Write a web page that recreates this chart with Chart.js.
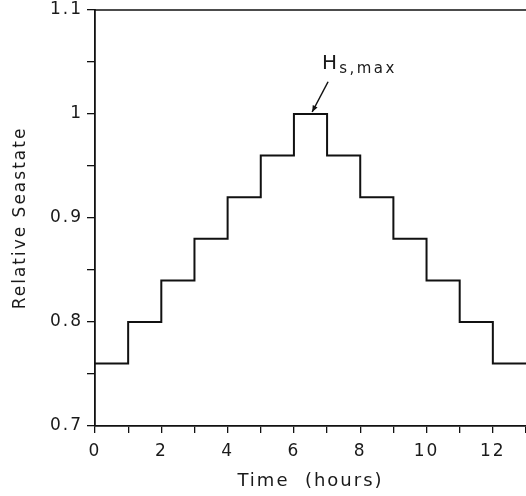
<!DOCTYPE html>
<html>
<head>
<meta charset="utf-8">
<script src="https://cdn.jsdelivr.net/npm/chart.js@4"></script>
<style>
html,body{margin:0;padding:0;background:#fff;}
#wrap{width:526px;height:496px;position:relative;}
</style>
</head>
<body>
<div id="wrap"><canvas id="c" width="526" height="496"></canvas></div>
<script>
// Data
const timeHours = [0, 1, 2, 3, 4, 5, 6, 7, 8, 9, 10, 11, 12, 13];
const relativeSeastate = [0.76, 0.80, 0.84, 0.88, 0.92, 0.96, 1.00, 0.96, 0.92, 0.88, 0.84, 0.80, 0.76, 0.76];
const xTickLabels = [0, 2, 4, 6, 8, 10, 12];
const yTickLabels = [0.7, 0.8, 0.9, 1.0, 1.1];
const annotationText = {main: 'H', sub: 's,max'};
const annotationTip = {x: 6.55, y: 1.0};
const annotationTail = {x: 7.03, y: 1.031};
const annotationLabelPos = {x: 6.85, y: 1.043};

const FONT = '"DejaVu Sans", "Liberation Sans", sans-serif';
const INK = '#111';
const TEXT = '#1a1a1a';

const points = timeHours.map((t, i) => ({x: t, y: relativeSeastate[i]}));

const decor = {
  id: 'decor',
  beforeDraw(chart) {
    chart.ctx.letterSpacing = '2px';
  },
  afterDraw(chart) {
    const ctx = chart.ctx;
    const a = chart.chartArea;
    const xs = chart.scales.x, ys = chart.scales.y;
    ctx.save();
    // top frame line at y max
    ctx.strokeStyle = INK;
    ctx.lineWidth = 1.5;
    ctx.beginPath();
    ctx.moveTo(a.left, a.top);
    ctx.lineTo(a.right, a.top);
    ctx.stroke();
    // annotation arrow
    const tx = xs.getPixelForValue(annotationTip.x), ty = ys.getPixelForValue(annotationTip.y) - 2;
    const sx = xs.getPixelForValue(annotationTail.x), sy = ys.getPixelForValue(annotationTail.y);
    ctx.lineWidth = 1.5;
    ctx.beginPath();
    ctx.moveTo(sx, sy);
    ctx.lineTo(tx, ty);
    ctx.stroke();
    const ang = Math.atan2(ty - sy, tx - sx);
    const L = 7, W = 0.4;
    ctx.fillStyle = INK;
    ctx.beginPath();
    ctx.moveTo(tx, ty);
    ctx.lineTo(tx - L * Math.cos(ang - W), ty - L * Math.sin(ang - W));
    ctx.lineTo(tx - L * Math.cos(ang + W), ty - L * Math.sin(ang + W));
    ctx.closePath();
    ctx.fill();
    // label
    const lx = xs.getPixelForValue(annotationLabelPos.x), ly = ys.getPixelForValue(annotationLabelPos.y);
    ctx.fillStyle = TEXT;
    ctx.textBaseline = 'alphabetic';
    ctx.textAlign = 'left';
    ctx.letterSpacing = '0px';
    ctx.font = '20px ' + FONT;
    ctx.fillText(annotationText.main, lx, ly);
    const w = ctx.measureText(annotationText.main).width;
    ctx.letterSpacing = '2.5px';
    ctx.font = '15px ' + FONT;
    ctx.fillText(annotationText.sub, lx + w + 2, ly + 4);
    ctx.restore();
  }
};

new Chart(document.getElementById('c'), {
  type: 'line',
  data: {
    datasets: [{
      data: points,
      stepped: 'before',
      borderColor: INK,
      borderWidth: 2,
      pointRadius: 0,
      fill: false
    }]
  },
  options: {
    responsive: false,
    animation: false,
    layout: {padding: {top: 10, right: 0, left: 0, bottom: 0}},
    plugins: {legend: {display: false}, tooltip: {enabled: false}},
    scales: {
      x: {
        type: 'linear',
        min: 0,
        max: 13,
        afterFit(s) { s.height = 70; s.paddingRight = 0; s.paddingLeft = 0; },
        border: {display: true, color: INK, width: 1.8},
        grid: {display: true, drawOnChartArea: false, drawTicks: true, tickLength: 7, color: INK, lineWidth: 1.3},
        ticks: {
          stepSize: 1,
          autoSkip: false,
          maxRotation: 0,
          color: TEXT,
          font: {family: FONT, size: 17},
          padding: 8,
          callback: (v) => xTickLabels.includes(v) ? String(v) : ''
        },
        title: {display: true, text: 'Time  (hours)', color: TEXT, font: {family: FONT, size: 18}, padding: {top: 8, bottom: 4}}
      },
      y: {
        type: 'linear',
        min: 0.7,
        max: 1.1,
        afterFit(s) { s.width = 95; s.paddingTop = 0; s.paddingBottom = 0; },
        border: {display: true, color: INK, width: 1.8},
        grid: {display: true, drawOnChartArea: false, drawTicks: true, tickLength: 8, color: INK, lineWidth: 1.3},
        ticks: {
          stepSize: 0.05,
          autoSkip: false,
          color: TEXT,
          font: {family: FONT, size: 17},
          padding: 4,
          callback: (v) => {
            const r = Math.round(v * 100) / 100;
            const hit = yTickLabels.find(t => Math.abs(t - r) < 1e-6);
            return hit !== undefined ? String(hit) : '';
          }
        },
        title: {display: true, text: 'Relative Seastate', color: TEXT, font: {family: FONT, size: 17}, padding: {top: 10, bottom: 0}}
      }
    }
  },
  plugins: [decor]
});
</script>
</body>
</html>
